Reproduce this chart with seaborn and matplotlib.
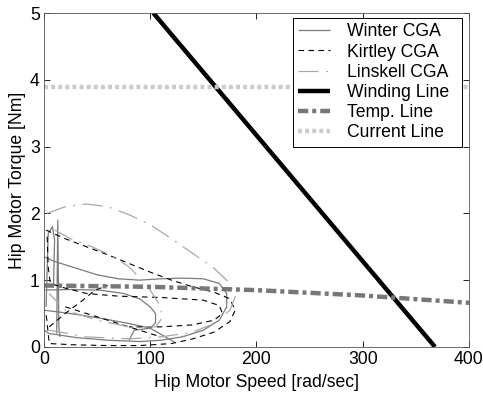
import numpy as np
import pandas as pd
import matplotlib
matplotlib.use("Agg")
import matplotlib.pyplot as plt
from matplotlib.lines import Line2D
import seaborn as sns

# ---- data ----
winter_x = [[0, 10, 30, 50, 70, 90, 110, 130, 150, 165, 172, 172, 165, 150, 130, 110, 90, 60, 30, 5, 0],
            [0, 25, 53, 75, 90, 100, 105, 105, 100, 85, 80],
            [0, 25, 53, 80, 100, 123],
            [12, 13, 14, 15],
            [2, 4, 8, 10, 9]]
winter_y = [[1.35, 1.28, 1.18, 1.08, 1.02, 1.0, 1.02, 1.03, 1.02, 0.95, 0.8, 0.6, 0.4, 0.25, 0.15, 0.1, 0.08, 0.1, 0.14, 0.2, 0.25],
            [0.85, 0.86, 0.85, 0.8, 0.72, 0.6, 0.5, 0.36, 0.28, 0.25, 0.1],
            [0.55, 0.5, 0.43, 0.35, 0.28, 0.07],
            [0.2, 1.9, 0.3, 0.15],
            [0.6, 1.7, 1.8, 1.6, 0.9]]

kirtley_x = [[2, 20, 40, 60, 80, 100, 120, 140, 160, 175, 180, 175, 160, 140, 120, 90, 60, 30, 5, 2],
             [3, 4, 6, 20, 40, 70, 110, 150, 165, 168, 160, 140, 110, 80],
             [5, 20, 35, 48, 60],
             [20, 50, 80, 110]]
kirtley_y = [[1.75, 1.62, 1.5, 1.38, 1.25, 1.12, 1.0, 0.9, 0.82, 0.72, 0.55, 0.38, 0.22, 0.12, 0.05, 0.02, 0.02, 0.03, 0.05, 0.5],
             [1.65, 1.2, 0.95, 0.88, 0.8, 0.76, 0.74, 0.7, 0.62, 0.5, 0.4, 0.33, 0.3, 0.3],
             [0.3, 0.5, 0.68, 0.85, 0.92],
             [0.6, 0.45, 0.3, 0.15]]

linskell_x = [[3, 20, 40, 60, 80, 100, 120, 140, 160, 175, 180, 175, 160, 140, 110, 80, 40, 5],
              [10, 25, 45, 62, 80, 92, 100, 108, 112, 105, 80, 50, 20, 5]]
linskell_y = [[2.0, 2.1, 2.14, 2.1, 1.98, 1.83, 1.62, 1.4, 1.18, 0.95, 0.75, 0.55, 0.35, 0.22, 0.15, 0.12, 0.15, 0.25],
              [1.75, 1.62, 1.5, 1.38, 1.2, 1.0, 0.85, 0.65, 0.45, 0.3, 0.3, 0.4, 0.55, 0.8]]

winding_x = [103, 368]
winding_y = [5.0, 0.0]

temp_x = [0, 100, 200, 300, 400]
temp_y = [0.92, 0.90, 0.85, 0.77, 0.66]

current_x = [0, 400]
current_y = [3.9, 3.9]

labels = ["Winter CGA", "Kirtley CGA", "Linskell CGA", "Winding Line", "Temp. Line", "Current Line"]


def seg_frame(xs, ys):
    rows = []
    for i, (sx, sy) in enumerate(zip(xs, ys)):
        for a, b in zip(sx, sy):
            rows.append((i, a, b))
    return pd.DataFrame(rows, columns=["seg", "x", "y"])


plt.rcParams['font.family'] = ['Liberation Sans', 'DejaVu Sans']
fig = plt.figure(figsize=(4.83, 3.96), dpi=100)
ax = fig.add_axes([0.091, 0.124, 0.880, 0.843])

styles = {
    "Winter CGA": dict(color="#7a7a7a", lw=0.9, dashes=None),
    "Kirtley CGA": dict(color="#000000", lw=0.8, dashes=(5, 4)),
    "Linskell CGA": dict(color="#a8a8a8", lw=0.9, dashes=(16, 6, 1.5, 6)),
    "Winding Line": dict(color="#000000", lw=3.2, dashes=None),
    "Temp. Line": dict(color="#777777", lw=3.2, dashes=(2.3, 0.9, 0.9, 0.9)),
    "Current Line": dict(color="#cccccc", lw=3.2, dashes=(0.9, 0.7)),
}

series = [
    ("Winter CGA", winter_x, winter_y),
    ("Kirtley CGA", kirtley_x, kirtley_y),
    ("Linskell CGA", linskell_x, linskell_y),
    ("Winding Line", [winding_x], [winding_y]),
    ("Temp. Line", [temp_x], [temp_y]),
    ("Current Line", [current_x], [current_y]),
]

handles = []
for name, xs, ys in series:
    st = styles[name]
    df = seg_frame(xs, ys)
    kw = dict(color=st["color"], linewidth=st["lw"])
    sns.lineplot(data=df, x="x", y="y", units="seg", estimator=None, sort=False,
                 ax=ax, legend=False, **kw)
    line_objs = ax.get_lines()[-len(xs):]
    for ln in line_objs:
        if st["dashes"] is not None:
            ln.set_dashes(st["dashes"])
        ln.set_solid_capstyle("butt")
    h = Line2D([0], [0], color=st["color"], lw=st["lw"], solid_capstyle="butt")
    if st["dashes"] is not None:
        h.set_dashes(st["dashes"])
    handles.append(h)

FS = 12.7
ax.set_xlim(0, 400)
ax.set_ylim(0, 5)
ax.set_xticks([0, 100, 200, 300, 400])
ax.set_yticks([0, 1, 2, 3, 4, 5])
ax.tick_params(direction="in", top=True, right=True, length=4, width=0.6,
               labelsize=FS, colors="#000000", pad=3)
for s in ax.spines.values():
    s.set_linewidth(0.6)
    s.set_color("#555555")
ax.set_xlabel("Hip Motor Speed [rad/sec]", fontsize=FS, labelpad=4)
ax.set_ylabel("Hip Motor Torque [Nm]", fontsize=FS, labelpad=3)

leg = ax.legend(handles, labels, loc="upper left", bbox_to_anchor=(0.586, 0.0, 0.3975, 0.985),
                mode="expand", fontsize=FS, frameon=True,
                fancybox=False, framealpha=1, edgecolor="#000000",
                handlelength=1.8, handletextpad=0.95, labelspacing=0.18,
                borderpad=0.3, borderaxespad=0.0)
leg.get_frame().set_linewidth(0.7)

fig.savefig("out.png", dpi=100)
